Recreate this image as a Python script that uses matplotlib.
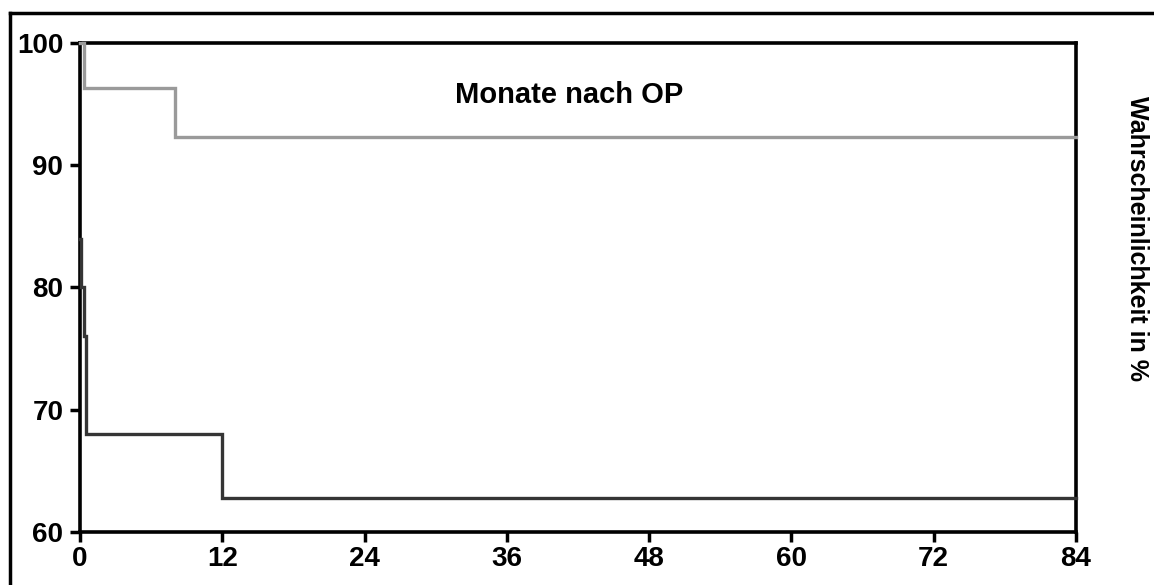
import matplotlib
matplotlib.use("Agg")
import matplotlib.pyplot as plt
from matplotlib.lines import Line2D

# Survival curves (months after surgery vs. probability in %)
months_dark = [0, 0.1, 0.3, 0.5, 12, 84]
prob_dark = [84, 80, 76, 68, 62.8, 62.8]

months_grey = [0, 0.3, 8, 84]
prob_grey = [100, 96.3, 92.3, 92.3]

x_ticks = [0, 12, 24, 36, 48, 60, 72, 84]
y_ticks = [60, 70, 80, 90, 100]

plt.rcParams['font.family'] = ['Liberation Sans', 'DejaVu Sans']
plt.rcParams['font.weight'] = 'bold'

W, H = 1154, 585
fig = plt.figure(figsize=(W / 100, H / 100), dpi=100)
ax = fig.add_axes([80 / W, 1 - 532 / H, (1076 - 80) / W, (532 - 43) / H])

ax.plot(months_grey, prob_grey, drawstyle='steps-post', color='#9a9a9a', lw=2.4,
        solid_joinstyle='miter', clip_on=False, zorder=3)
ax.plot(months_dark, prob_dark, drawstyle='steps-post', color='#353535', lw=2.4,
        solid_joinstyle='miter', clip_on=False, zorder=3)

ax.set_xlim(0, 84)
ax.set_ylim(60, 100)
ax.set_xticks(x_ticks)
ax.set_yticks(y_ticks)
ax.set_xticklabels([str(v) for v in x_ticks], fontsize=20, fontweight='bold')
ax.set_yticklabels([str(v) for v in y_ticks], fontsize=20, fontweight='bold')
ax.tick_params(axis='both', direction='out', length=7, width=2.5, color='black')
ax.tick_params(axis='x', pad=3)
ax.tick_params(axis='y', pad=5)
for side in ['left', 'right', 'top', 'bottom']:
    ax.spines[side].set_linewidth(2.6)
    ax.spines[side].set_color('black')

ax.text(0.491, 0.894, 'Monate nach OP', transform=ax.transAxes, ha='center', va='center',
        fontsize=21, fontweight='bold')

fig.text(1137 / W, 1 - 238 / H, 'Wahrscheinlichkeit in %', rotation=270,
         ha='center', va='center', fontsize=18, fontweight='bold')

# Frame around the figure (top and left edges)
fig.add_artist(Line2D([10 / W, 1.0], [1 - 13 / H, 1 - 13 / H], transform=fig.transFigure,
                      color='black', lw=2.5))
fig.add_artist(Line2D([10 / W, 10 / W], [0.0, 1 - 13 / H], transform=fig.transFigure,
                      color='black', lw=2.5))

fig.savefig('out.png', dpi=100, facecolor='white')
